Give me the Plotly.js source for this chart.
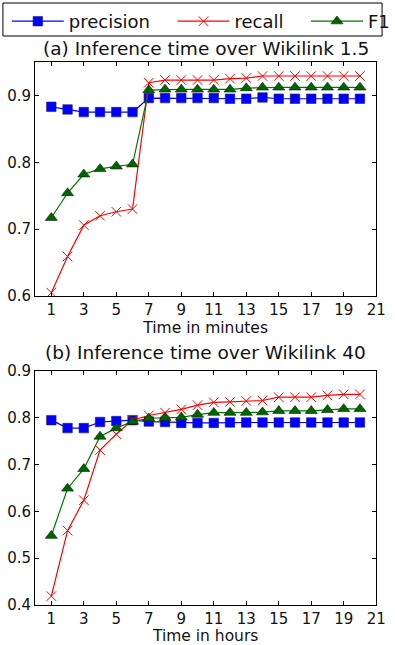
<!DOCTYPE html>
<html><head><meta charset="utf-8">
<script src="https://cdn.plot.ly/plotly-3.0.1.min.js"></script>
<style>body{margin:0;padding:0;background:#fff}#chart{width:395px;height:645px}</style>
</head><body><div id="chart"></div>
<script>
const x = [1,2,3,4,5,6,7,8,9,10,11,12,13,14,15,16,17,18,19,20];
const xTicks = [1,3,5,7,9,11,13,15,17,19,21];
const precisionA = [0.883,0.879,0.875,0.875,0.875,0.875,0.896,0.896,0.896,0.896,0.896,0.895,0.895,0.897,0.895,0.895,0.895,0.895,0.895,0.895];
const recallA = [0.605,0.659,0.706,0.720,0.726,0.730,0.919,0.923,0.923,0.923,0.923,0.925,0.926,0.929,0.929,0.929,0.929,0.929,0.929,0.929];
const f1A = [0.717,0.754,0.782,0.790,0.794,0.797,0.908,0.909,0.909,0.909,0.909,0.909,0.911,0.912,0.912,0.912,0.912,0.912,0.912,0.912];
const precisionB = [0.795,0.778,0.778,0.791,0.793,0.795,0.792,0.791,0.789,0.789,0.789,0.790,0.790,0.790,0.790,0.790,0.790,0.790,0.790,0.790];
const recallB = [0.419,0.559,0.624,0.731,0.765,0.795,0.805,0.811,0.818,0.827,0.833,0.834,0.836,0.837,0.844,0.844,0.844,0.848,0.850,0.850];
const f1B = [0.548,0.649,0.691,0.760,0.778,0.792,0.799,0.800,0.801,0.807,0.811,0.811,0.811,0.812,0.815,0.815,0.815,0.817,0.819,0.819];
const seriesNames = ['precision','recall','F1'];
const titleA = '(a) Inference time over Wikilink 1.5';
const titleB = '(b) Inference time over Wikilink 40';
const xTitleA = 'Time in minutes';
const xTitleB = 'Time in hours';

const font = 'DejaVu Sans, sans-serif';
const styles = [
  {color:'#0000ff', marker:{symbol:'square', size:9.5, color:'#0000ff', line:{color:'#222266', width:0.6}}},
  {color:'#ff0000', marker:{symbol:'x-thin', size:9.5, color:'#ff0000', line:{color:'#ff0000', width:1}}},
  {color:'#007700', marker:{symbol:'triangle-up', size:10.5, color:'#006400', line:{color:'#002200', width:0.6}}}
];
const legendIds = ['legend','legend2','legend3'];
const dataA = [precisionA, recallA, f1A];
const dataB = [precisionB, recallB, f1B];
const traces = [];
dataA.forEach((d,i)=>traces.push({x:x, y:d, name:seriesNames[i], mode:'lines+markers', line:{color:styles[i].color,width:1.2}, marker:styles[i].marker, xaxis:'x', yaxis:'y', showlegend:true, legend:legendIds[i]}));
dataB.forEach((d,i)=>traces.push({x:x, y:d, name:seriesNames[i], mode:'lines+markers', line:{color:styles[i].color,width:1.2}, marker:styles[i].marker, xaxis:'x2', yaxis:'y2', showlegend:false}));

const legendBase = (px)=>({orientation:'h', x:px/395, y:1-3/645, xanchor:'left', yanchor:'top', borderwidth:0, bgcolor:'rgba(0,0,0,0)', font:{family:font,size:18,color:'#111'}, itemwidth:52});
const axisCommon = {showline:true, linecolor:'#000', linewidth:1, mirror:'ticks', ticks:'inside', ticklen:4, tickcolor:'#000', showgrid:false, zeroline:false, ticklabeloverflow:'allow', tickfont:{family:font,size:15,color:'#111'}};
const layout = {
  width:395, height:645,
  margin:{l:0,r:0,t:0,b:0},
  paper_bgcolor:'#fff', plot_bgcolor:'#fff',
  font:{family:font,color:'#000'},
  showlegend:true,
  legend:legendBase(7),
  legend2:legendBase(177),
  legend3:legendBase(314),
  shapes:[{type:'rect', xref:'paper', yref:'paper', x0:3/395, x1:392/395, y0:1-36/645, y1:1-3/645, line:{color:'#000', width:1}}],
  xaxis:Object.assign({}, axisCommon, {domain:[0.0911,0.9772], anchor:'y', range:[0,21], tickvals:xTicks, title:{text:xTitleA, font:{family:font,size:15.5,color:'#111'}, standoff:1}}),
  yaxis:Object.assign({}, axisCommon, {domain:[0.5411,0.9039], anchor:'x', range:[0.6,0.95], tickvals:[0.6,0.7,0.8,0.9], tickformat:'.1f'}),
  xaxis2:Object.assign({}, axisCommon, {domain:[0.0911,0.9772], anchor:'y2', range:[0,21], tickvals:xTicks, title:{text:xTitleB, font:{family:font,size:15.5,color:'#111'}, standoff:1}}),
  yaxis2:Object.assign({}, axisCommon, {domain:[0.0620,0.4248], anchor:'x2', range:[0.4,0.9], tickvals:[0.4,0.5,0.6,0.7,0.8,0.9], tickformat:'.1f'}),
  annotations:[
    {text:titleA, xref:'paper', yref:'paper', x:0.534, y:1-49/645, xanchor:'center', yanchor:'middle', showarrow:false, font:{family:font,size:18.5,color:'#111'}},
    {text:titleB, xref:'paper', yref:'paper', x:0.534, y:1-352/645, xanchor:'center', yanchor:'middle', showarrow:false, font:{family:font,size:18.5,color:'#111'}}
  ]
};
Plotly.newPlot('chart', traces, layout, {displayModeBar:false, staticPlot:true});
</script></body></html>
